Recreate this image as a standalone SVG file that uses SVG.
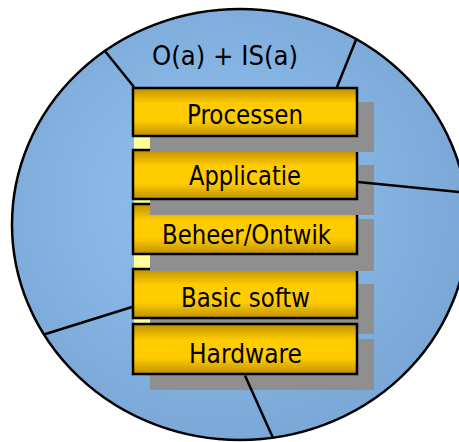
<svg xmlns="http://www.w3.org/2000/svg" width="459" height="442" viewBox="0 0 459 442">
<style>
.box{fill:url(#gold);stroke:#000;stroke-width:2.5}
.sh{fill:#8F8F8F}
.lbl{font-family:"DejaVu Sans Condensed","DejaVu Sans",sans-serif;font-size:26px;fill:#000;text-anchor:middle}
.con{stroke:#000;stroke-width:2.5;fill:none}
</style>
<defs>
<radialGradient id="blue" cx="0.45" cy="0.45" r="0.55">
<stop offset="0" stop-color="#93C3F3"/>
<stop offset="1" stop-color="#7BA8D6"/>
</radialGradient>
<linearGradient id="gold" x1="0" y1="0" x2="0" y2="1">
<stop offset="0" stop-color="#BF9000"/>
<stop offset="0.32" stop-color="#FFCC00"/>
<stop offset="0.68" stop-color="#FFCC00"/>
<stop offset="1" stop-color="#BF9000"/>
</linearGradient>
<clipPath id="ell"><ellipse cx="240" cy="224.5" rx="228" ry="215.5"/></clipPath>
</defs>
<ellipse cx="240" cy="224.5" rx="228" ry="215.5" fill="url(#blue)"/>
<text class="lbl" x="225" y="65" style="font-size:27px" textLength="146" lengthAdjust="spacingAndGlyphs">O(a) + IS(a)</text>
<rect x="134" y="137" width="16" height="186" fill="#FFFF99"/>
<g id="node-basic">
<rect class="sh" x="150" y="284" width="224" height="50"/>
<rect class="box" x="133" y="269" width="224" height="49"/>
<text class="lbl" x="245.5" y="307" textLength="129" lengthAdjust="spacingAndGlyphs">Basic softw</text>
</g>
<g id="node-hardware">
<rect class="sh" x="150" y="339" width="224" height="51"/>
<rect class="box" x="133" y="324" width="224" height="50"/>
<text class="lbl" x="245.5" y="363" textLength="113" lengthAdjust="spacingAndGlyphs">Hardware</text>
</g>
<g id="node-beheer">
<rect class="sh" x="150" y="219" width="224" height="52"/>
<rect class="box" x="133" y="204" width="224" height="50"/>
<text class="lbl" x="246.5" y="244" textLength="169" lengthAdjust="spacingAndGlyphs">Beheer/Ontwik</text>
</g>
<g id="node-applicatie">
<rect class="sh" x="150" y="165" width="224" height="50"/>
<rect class="box" x="133" y="150" width="224" height="49"/>
<text class="lbl" x="245" y="185" textLength="112" lengthAdjust="spacingAndGlyphs">Applicatie</text>
</g>
<g id="node-processen">
<rect class="sh" x="150" y="102" width="224" height="50"/>
<rect class="box" x="133" y="88" width="224" height="48"/>
<text class="lbl" x="245" y="124" textLength="116" lengthAdjust="spacingAndGlyphs">Processen</text>
</g>
<g id="connectors" clip-path="url(#ell)">
<line class="con" x1="134" y1="87" x2="92" y2="35"/>
<line class="con" x1="337" y1="87" x2="366" y2="15"/>
<line class="con" x1="358" y1="182" x2="470" y2="193"/>
<line class="con" x1="132" y1="307" x2="20" y2="342"/>
<line class="con" x1="245" y1="375.5" x2="282" y2="458"/>
</g>
<ellipse cx="240" cy="224.5" rx="228" ry="215.5" fill="none" stroke="#000" stroke-width="2.5"/>
</svg>
